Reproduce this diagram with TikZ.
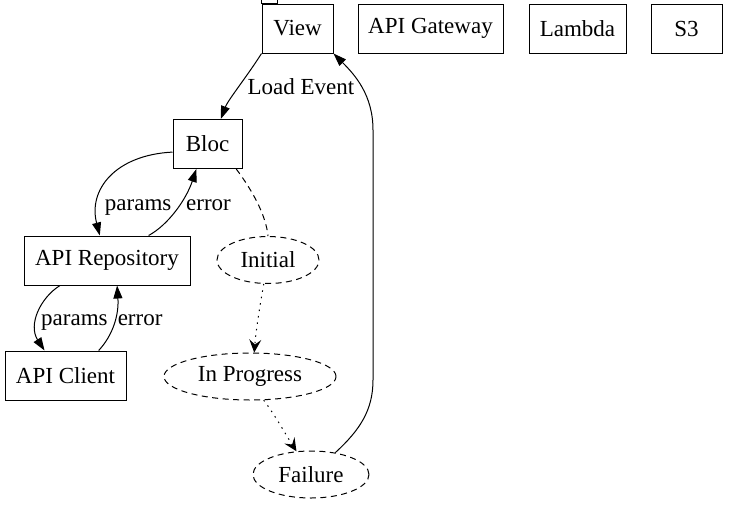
\documentclass[tikz,border=0pt]{standalone}
\usepackage{fontspec}
\setmainfont{Liberation Serif}
\usepackage{tikz}
\usetikzlibrary{shapes, arrows.meta}
\tikzstyle{block} = [rectangle, minimum width=71pt, minimum height=49pt, inner sep=0pt, text centered, draw=black]
\tikzstyle{state} = [ellipse, minimum height=47pt, inner sep=0pt, text centered, draw=black, dash pattern=on 6pt off 4.5pt]
\tikzstyle{arrow} = [->, >={Triangle[length=13pt,width=9pt]}]
\tikzstyle{flow} = [->, dash pattern=on 1.5pt off 5pt, >={Stealth[length=13pt,width=12pt,inset=5pt]}]
\tikzstyle{lbl} = [anchor=west, inner sep=0pt]

\begin{document}
\begin{tikzpicture}[x=1pt, y=-1pt, line width=1pt,
  every node/.style={font=\fontsize{23}{27}\selectfont}]
\useasboundingbox (0,0) rectangle (729,504);

\node (view) [block] at (297.5,28.5) {View};
\node (gateway) [block, minimum width=145pt] at (430.5,28.5) {API Gateway};
\node (lambda) [block, minimum width=97pt] at (577.5,28.5) {Lambda};
\node (s3) [block] at (686.5,28.5) {S3};
\node (bloc) [block, minimum width=69pt] at (207.5,144) {Bloc};
\node (repo) [block, minimum width=166pt] at (107,260.5) {API Repository};
\node (client) [block, minimum width=121pt] at (65.5,375.5) {API Client};
\node (initial) [state, minimum width=102pt] at (268,260) {Initial};
\node (progress) [state, minimum width=172pt] at (250,376.5) {In Progress};
\node (failure) [state, minimum width=116pt] at (311,474.5) {Failure};

% folder tab on view
\draw (view.north west) rectangle ++(16,-4);

\draw [arrow] (view.south west) .. controls (248,75) and (228,100) .. (bloc.62)
  node [lbl, pos=0.45, xshift=6pt, yshift=-3pt] {Load Event};

\draw [arrow] (bloc.-167) .. controls (115,155) and (88,190) .. (repo.106)
  node [lbl, pos=0.7, xshift=5pt, yshift=-10pt] {params};
\draw [arrow] (repo.31) .. controls (168,225) and (186,200) .. (bloc.-114)
  node [lbl, pos=0.6, xshift=5pt, yshift=-2pt] {error};

\draw [dash pattern=on 6pt off 4.5pt] (bloc.-41) .. controls (252,190) and (266,215) .. (initial.north);
\draw [flow] (initial.-100) .. controls (260,305) and (256,330) .. (progress.80);
\draw [flow] (progress.-60) .. controls (275,415) and (286,435) .. (failure.122);

\draw [arrow] (failure.42) .. controls (360,430) and (373,410) .. (373,380)
  -- (373,130) .. controls (373,95) and (355,75) .. (view.south east);

\draw [arrow] (repo.-152) .. controls (40,298) and (28,325) .. (client.130)
  node [lbl, pos=0.55, xshift=3pt, yshift=-6pt] {params};
\draw [arrow] (client.37) .. controls (113,335) and (119,315) .. (repo.-68)
  node [lbl, pos=0.58, xshift=2pt, yshift=-2pt] {error};

\end{tikzpicture}
\end{document}
